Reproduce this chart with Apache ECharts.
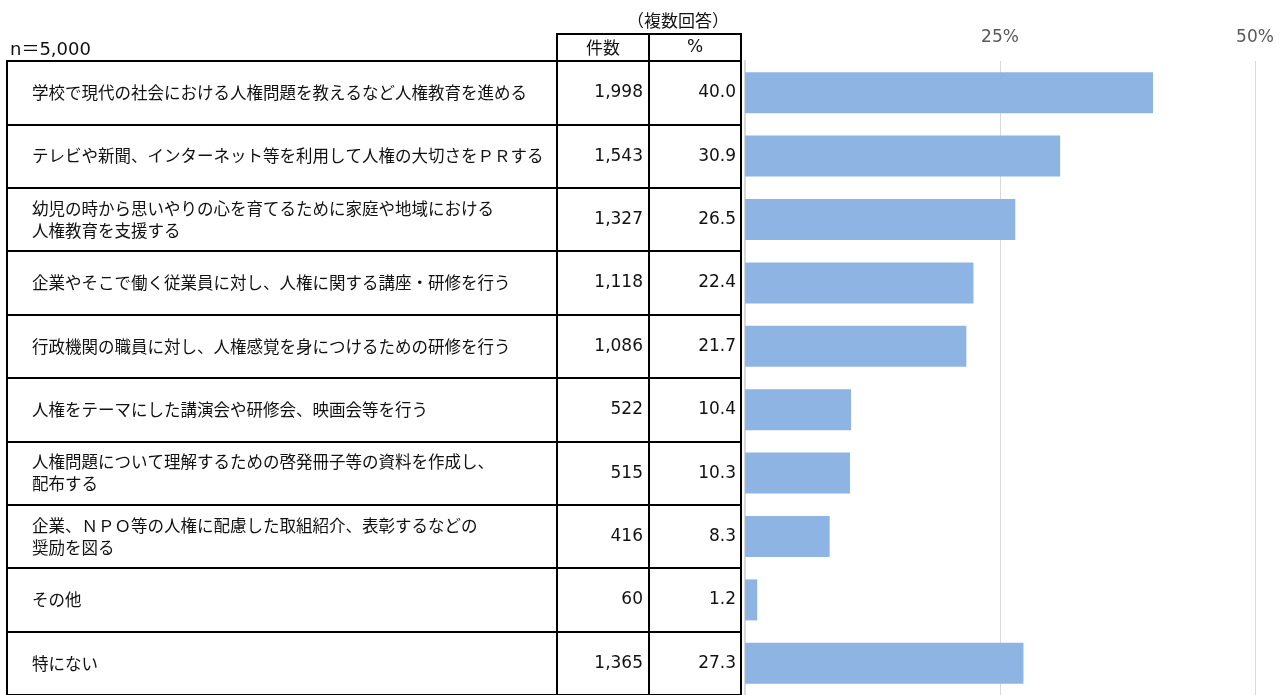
<!DOCTYPE html>
<html>
<head>
<meta charset="utf-8">
<script src="https://cdn.jsdelivr.net/npm/echarts@6/dist/echarts.min.js"></script>
<style>
  html, body { margin: 0; padding: 0; background: #fff; }
  #chart { width: 1284px; height: 695px; }
</style>
</head>
<body>
<div id="chart"></div>
<script>
// Survey items (multiple answers, n = 5,000)
const categories = [
  '学校で現代の社会における人権問題を教えるなど人権教育を進める',
  'テレビや新聞、インターネット等を利用して人権の大切さをＰＲする',
  '幼児の時から思いやりの心を育てるために家庭や地域における\n人権教育を支援する',
  '企業やそこで働く従業員に対し、人権に関する講座・研修を行う',
  '行政機関の職員に対し、人権感覚を身につけるための研修を行う',
  '人権をテーマにした講演会や研修会、映画会等を行う',
  '人権問題について理解するための啓発冊子等の資料を作成し、\n配布する',
  '企業、ＮＰＯ等の人権に配慮した取組紹介、表彰するなどの\n奨励を図る',
  'その他',
  '特にない'
];
const counts = [1998, 1543, 1327, 1118, 1086, 522, 515, 416, 60, 1365];
const percents = [40.0, 30.9, 26.5, 22.4, 21.7, 10.4, 10.3, 8.3, 1.2, 27.3];
const axisTicks = [0, 25, 50];
const sampleLabel = 'n＝5,000';
const noteLabel = '（複数回答）';
const headerCount = '件数';
const headerPct = '%';

const countLabels = counts.map(v => v.toLocaleString('en-US'));
const pctLabels = percents.map(v => v.toFixed(1));

const JP = '"Noto Sans CJK JP", sans-serif';
const NUM = '"DejaVu Sans", "Noto Sans CJK JP", sans-serif';
const ROW_TOP = 61, ROW_H = 636;

const tableGrid = (left, width) => ({
  left, width, top: ROW_TOP, height: ROW_H,
  show: true, borderColor: '#000', borderWidth: 2, backgroundColor: 'transparent'
});
const headGrid = (left, width) => ({
  left, width, top: 34, height: 27,
  show: true, borderColor: '#000', borderWidth: 2, backgroundColor: 'transparent'
});
const hiddenX = i => ({ type: 'value', gridIndex: i, show: false, min: 0, max: 1 });
const rowAxis = (i, data, position, margin, font, size) => ({
  type: 'category', gridIndex: i, data, inverse: true, position,
  axisLine: { show: false }, axisTick: { show: false },
  splitLine: { show: true, lineStyle: { color: '#000', width: 2 } },
  axisLabel: {
    inside: true, margin, color: '#111', fontSize: size, lineHeight: 22,
    fontFamily: font, interval: 0
  }
});

const chart = echarts.init(document.getElementById('chart'), null, { renderer: 'canvas' });
chart.setOption({
  animation: false,
  backgroundColor: '#fff',
  grid: [
    tableGrid(7, 550),      // item labels
    tableGrid(557, 92),     // counts
    tableGrid(649, 92),     // percents
    { left: 745, width: 510, top: ROW_TOP, height: ROW_H },  // bars
    headGrid(557, 92),
    headGrid(649, 92)
  ],
  xAxis: [
    hiddenX(0), hiddenX(1), hiddenX(2),
    {
      type: 'value', gridIndex: 3, position: 'top',
      min: axisTicks[0], max: axisTicks[axisTicks.length - 1], interval: 25,
      axisLine: { show: false }, axisTick: { show: false },
      splitLine: { show: true, lineStyle: { color: '#D9D9D9', width: 1 } },
      axisLabel: {
        margin: 15, color: '#595959', fontSize: 17, fontFamily: NUM,
        formatter: v => (v === 0 ? '' : v + '%')
      }
    },
    hiddenX(4), hiddenX(5)
  ],
  yAxis: [
    rowAxis(0, categories, 'left', 25, JP, 16.5),
    rowAxis(1, countLabels, 'right', 6, NUM, 17),
    rowAxis(2, pctLabels, 'right', 5, NUM, 17),
    {
      type: 'category', gridIndex: 3, data: categories, inverse: true,
      axisLine: { show: true, lineStyle: { color: '#D9D9D9', width: 2 } },
      axisTick: { show: false }, axisLabel: { show: false }, splitLine: { show: false }
    },
    { type: 'category', gridIndex: 4, show: false, data: [headerCount] },
    { type: 'category', gridIndex: 5, show: false, data: [headerPct] }
  ],
  series: [{
    type: 'bar', xAxisIndex: 3, yAxisIndex: 3,
    data: percents, barWidth: 41,
    itemStyle: { color: '#8EB4E3' },
    silent: true
  }],
  graphic: [
    { type: 'text', x: 10, y: 50,
      style: { text: sampleLabel, fontSize: 18, fontFamily: NUM, fill: '#111',
               verticalAlign: 'middle' } },
    { type: 'text', x: 678, y: 21,
      style: { text: noteLabel, fontSize: 17, fontFamily: JP, fill: '#111',
               align: 'center', verticalAlign: 'middle' } },
    { type: 'text', x: 603, y: 48,
      style: { text: headerCount, fontSize: 17, fontFamily: JP, fill: '#111',
               align: 'center', verticalAlign: 'middle' } },
    { type: 'text', x: 695, y: 48,
      style: { text: headerPct, fontSize: 17, fontFamily: NUM, fill: '#111',
               align: 'center', verticalAlign: 'middle' } }
  ]
});
</script>
</body>
</html>
